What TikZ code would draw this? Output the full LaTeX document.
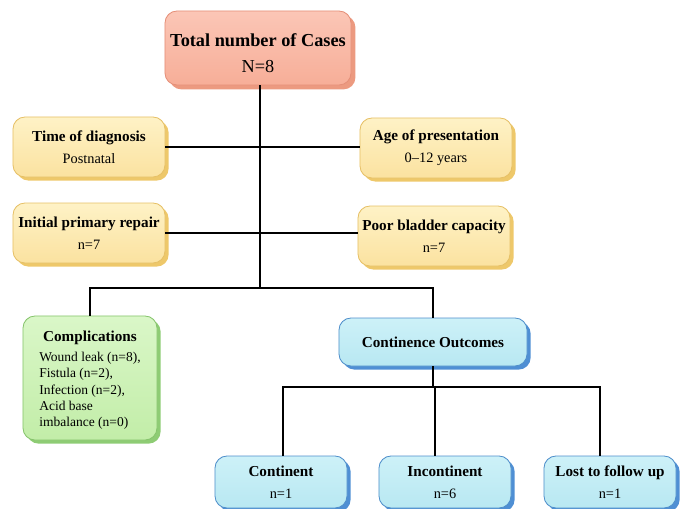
\documentclass[tikz,border=0pt]{standalone}
\usepackage{fontspec}
\setmainfont{Liberation Serif}
\usetikzlibrary{shadows}

\definecolor{rootline}{HTML}{E58F78}
\definecolor{roottop}{HTML}{FBC6B6}
\definecolor{rootbot}{HTML}{F7AE98}
\definecolor{rootshade}{HTML}{EC9A80}
\definecolor{infoline}{HTML}{E6C066}
\definecolor{infotop}{HTML}{FEF2C6}
\definecolor{infobot}{HTML}{FBE2A0}
\definecolor{infoshade}{HTML}{EEC86A}
\definecolor{compline}{HTML}{86C46C}
\definecolor{comptop}{HTML}{DAF7C8}
\definecolor{compbot}{HTML}{C2EDA8}
\definecolor{compshade}{HTML}{8ECC74}
\definecolor{outline}{HTML}{4F8FCB}
\definecolor{outtop}{HTML}{CDF1F8}
\definecolor{outbot}{HTML}{B8E8F2}
\definecolor{outshade}{HTML}{4F8FD4}

\newcommand{\headtxt}[1]{{\fontsize{10.8}{13}\selectfont\textbf{#1}}}

\begin{document}
\begin{tikzpicture}[x=0.025cm, y=-0.025cm,
	box/.style={draw, rounded corners=3mm, align=center, inner sep=0.5mm, line width=0.6pt, font=\fontsize{10.2}{15.5}\selectfont},
	rootbox/.style={box, draw=rootline, top color=roottop, bottom color=rootbot, minimum width=4.65cm, minimum height=1.85cm, font=\fontsize{13}{18.5}\selectfont, general shadow={fill=rootshade, shadow xshift=1.1mm, shadow yshift=-1.1mm}},
	infobox/.style={box, draw=infoline, top color=infotop, bottom color=infobot, minimum width=3.8cm, minimum height=1.5cm, general shadow={fill=infoshade, shadow xshift=0.9mm, shadow yshift=-0.9mm}},
	compbox/.style={box, draw=compline, top color=comptop, bottom color=compbot, minimum width=3.35cm, minimum height=3.1cm, font=\fontsize{9.6}{11.5}\selectfont, general shadow={fill=compshade, shadow xshift=0.9mm, shadow yshift=-0.9mm}},
	outbox/.style={box, draw=outline, top color=outtop, bottom color=outbot, minimum width=3.3cm, minimum height=1.3cm, general shadow={fill=outshade, shadow xshift=0.9mm, shadow yshift=-0.9mm}},
	link/.style={draw=black, line width=1.1pt}]
	\useasboundingbox (0,0) rectangle (688,508);

	\node[rootbox] (total) at (258,48) {\rule{0pt}{16pt}\textbf{Total number of Cases}\\N=8};

	\node[infobox] (diag) at (89,147) {\headtxt{Time of diagnosis}\\Postnatal};
	\node[infobox] (age) at (436,148) {\headtxt{Age of presentation}\\0--12 years};
	\node[infobox] (repair) at (89,233) {\headtxt{Initial primary repair}\\n=7};
	\node[infobox] (bladder) at (434,236) {\headtxt{Poor bladder capacity}\\n=7};

	\node[compbox] (comp) at (90,378) {\rule{0pt}{12pt}\headtxt{Complications}\\[3pt]
		\begin{tabular}{@{}l@{}}Wound leak (n=8),\\Fistula (n=2),\\Infection (n=2),\\Acid base\\imbalance (n=0)\end{tabular}};
	\node[outbox, minimum width=4.7cm, minimum height=1.2cm] (outc) at (433,342) {\headtxt{Continence Outcomes}};

	\node[outbox] (cont) at (281,482) {\headtxt{Continent}\\n=1};
	\node[outbox] (incont) at (445,482) {\headtxt{Incontinent}\\n=6};
	\node[outbox] (lost) at (610,482) {\headtxt{Lost to follow up}\\n=1};

	\coordinate (split) at (260,288);
	\coordinate (split2) at (433,387);

	% spine and branches
	\draw[link] (total.south -| split) -- (split);
	\draw[link] (diag.east) -- (diag.east -| age.west);
	\draw[link] (repair.east) -- (repair.east -| bladder.west);
	\draw[link] (split) -| (comp.north);
	\draw[link] (split) -| (outc.north);

	% outcomes
	\draw[link] (outc.south) -- (split2);
	\draw[link] (split2) -| ([xshift=0.05cm]cont.north);
	\draw[link] (split2) -| ([xshift=-0.25cm]incont.north);
	\draw[link] (split2) -| ([xshift=-0.25cm]lost.north);
\end{tikzpicture}
\end{document}
